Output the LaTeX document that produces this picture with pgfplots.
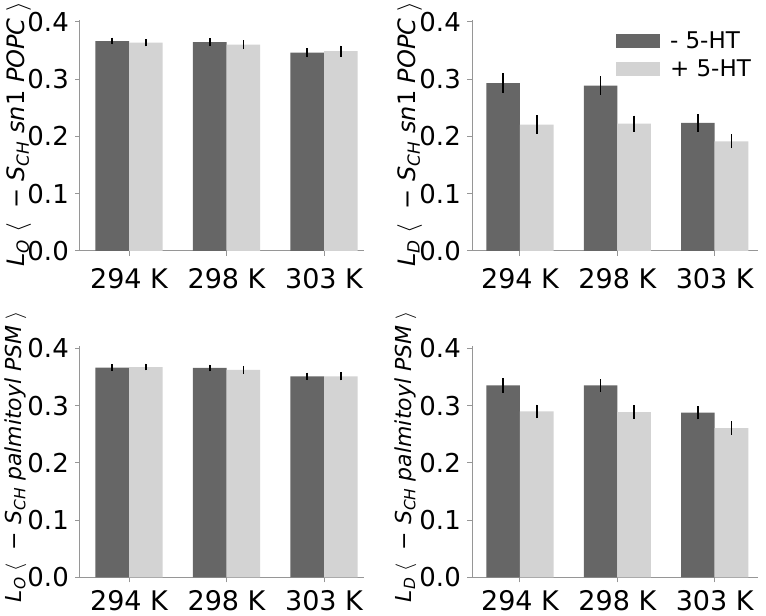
\documentclass[border=0pt]{standalone}
\usepackage{pgfplots}
\pgfplotsset{compat=1.18}
\usepackage{fontspec}
\setmainfont{DejaVu Sans}
\definecolor{darkbar}{RGB}{102,102,102}
\definecolor{lightbar}{RGB}{211,211,211}
\definecolor{spine}{RGB}{150,150,150}
\pgfplotsset{
  panel/.style={
    scale only axis, height=231pt, ymin=0, ymax=0.4035,
    ybar=0pt, bar width=0.345,
    axis lines=left, x axis line style={-, spine, line width=1pt}, y axis line style={-, spine, line width=1pt},
    tick align=outside, major tick length=5pt,
    every tick/.style={spine, line width=1pt},
    xtick={0,1,2}, xticklabels={294 K,298 K,303 K},
    ytick={0,0.1,0.2,0.3,0.4},
    /pgf/number format/assume math mode=true,
    yticklabel style={/pgf/number format/fixed, /pgf/number format/fixed zerofill, /pgf/number format/precision=1, inner sep=0pt, xshift=-6pt, font=\fontsize{26}{30}\selectfont},
    xticklabel style={inner sep=0pt, anchor=north, font=\fontsize{27}{31}\selectfont},
    error bars/y dir=both, error bars/y explicit, error bars/error mark=none,
    error bars/error bar style={black, line width=1.6pt},
  },
  left/.style={panel, width=284pt, xmin=-0.503, xmax=2.41},
  right/.style={panel, width=286pt, xmin=-0.493, xmax=2.445},
  toprow/.style={xticklabel style={yshift=-12pt}},
  botrow/.style={xticklabel style={yshift=-8pt}},
  ylab/.style n args={3}{ylabel style={at={(axis description cs:#1,#2)}, anchor=base, inner sep=0pt, font=\fontsize{#3}{#3}\selectfont}},
  dk/.style={fill=darkbar, draw=none},
  lt/.style={fill=lightbar, draw=none},
}
\newcommand{\lab}[2]{\textit{L}\textsubscript{\textit{#1}}\;$\langle$\; − \textit{S}\textsubscript{\textit{CH}} #2\;$\rangle$}
\begin{document}
\begin{tikzpicture}
\path[use as bounding box] (0,0) rectangle (766pt,616pt);
% top left
\begin{axis}[left, toprow, at={(80pt,365pt)}, anchor=south west, ylab={-0.194}{0.505}{24},
  ylabel={\lab{O}{\textit{sn}1 \textit{POPC}}}]
\addplot+[dk] coordinates {(0,0.3668) +- (0,0.006) (1,0.3650) +- (0,0.0067) (2,0.3464) +- (0,0.008)};
\addplot+[lt] coordinates {(0,0.3639) +- (0,0.0063) (1,0.3604) +- (0,0.0076) (2,0.3493) +- (0,0.0096)};
\end{axis}
% top right
\begin{axis}[right, toprow, at={(472pt,365pt)}, anchor=south west, ylab={-0.196}{0.505}{24},
  ylabel={\lab{D}{\textit{sn}1 \textit{POPC}}},
  legend style={at={(axis description cs:0.5035,0.949)}, anchor=north west, draw=none, fill=none,
    inner sep=0pt, outer sep=0pt, row sep=10pt, column sep=10pt, font=\fontsize{23}{27}\selectfont,
    nodes={inner sep=0pt}},
  legend cell align=left,
  legend image code/.code={\fill[#1] (0pt,-7pt) rectangle (44pt,7pt);}]
\addplot+[dk] coordinates {(0,0.2934) +- (0,0.0175) (1,0.2888) +- (0,0.016) (2,0.2236) +- (0,0.015)};
\addplot+[lt] coordinates {(0,0.2207) +- (0,0.016) (1,0.2224) +- (0,0.014) (2,0.1916) +- (0,0.012)};
\legend{- 5-HT, + 5-HT}
\end{axis}
% bottom left
\begin{axis}[left, botrow, at={(80pt,38.7pt)}, anchor=south west, ylab={-0.2077}{0.522}{22},
  ylabel={\lab{O}{\textit{palmitoyl PSM}}}]
\addplot+[dk] coordinates {(0,0.3662) +- (0,0.006) (1,0.3656) +- (0,0.006) (2,0.3510) +- (0,0.0064)};
\addplot+[lt] coordinates {(0,0.3673) +- (0,0.006) (1,0.3621) +- (0,0.007) (2,0.3510) +- (0,0.007)};
\end{axis}
% bottom right
\begin{axis}[right, botrow, at={(472pt,38.7pt)}, anchor=south west, ylab={-0.213}{0.522}{22},
  ylabel={\lab{D}{\textit{palmitoyl PSM}}}]
\addplot+[dk] coordinates {(0,0.3353) +- (0,0.0128) (1,0.3353) +- (0,0.011) (2,0.2875) +- (0,0.0117)};
\addplot+[lt] coordinates {(0,0.2898) +- (0,0.0117) (1,0.2886) +- (0,0.0117) (2,0.2606) +- (0,0.0117)};
\end{axis}
\end{tikzpicture}
\end{document}
